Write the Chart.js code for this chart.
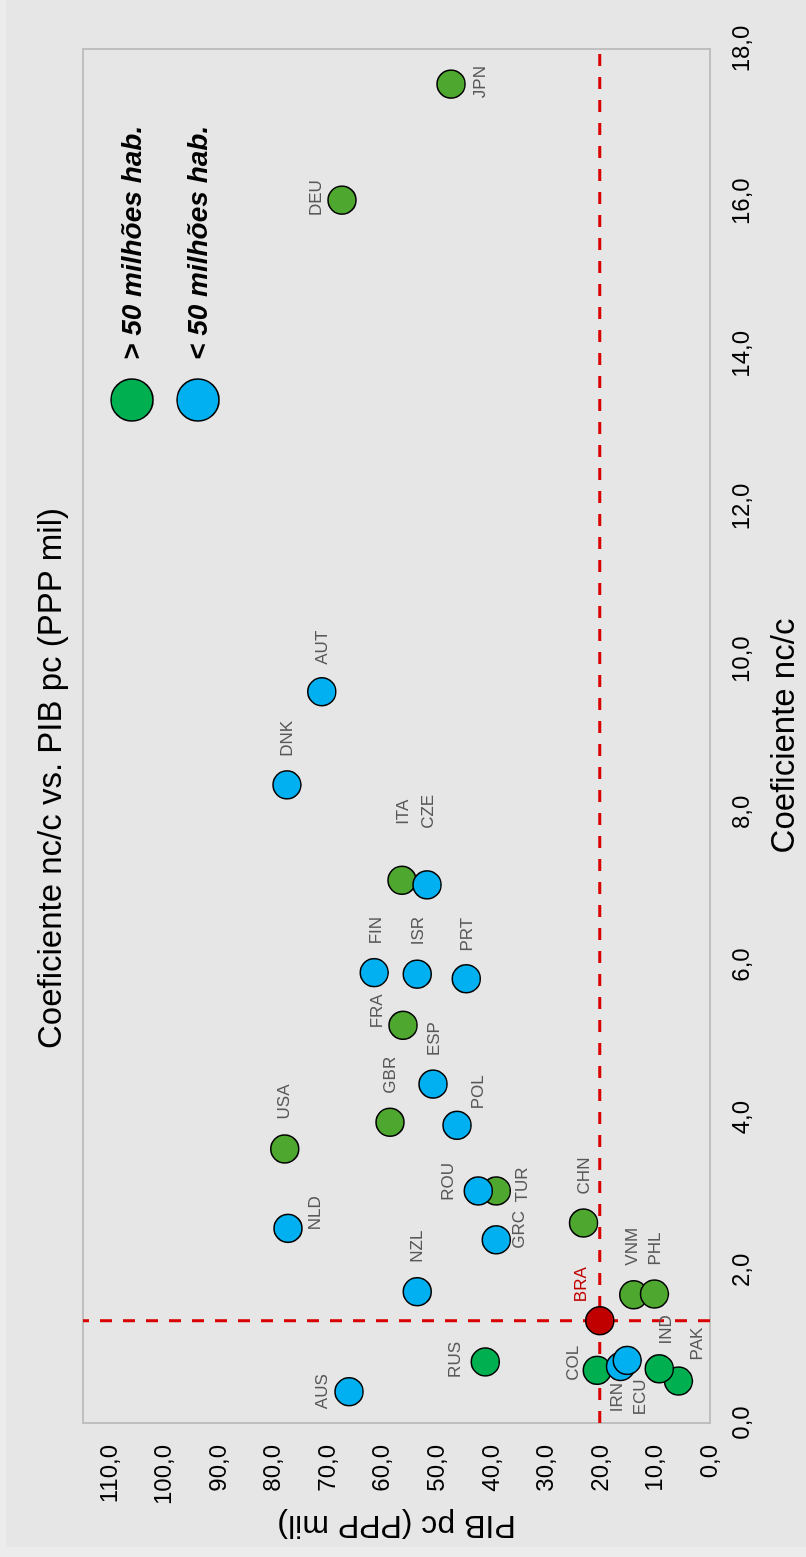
<!DOCTYPE html>
<html lang="pt-BR">
<head>
<meta charset="utf-8">
<title>Coeficiente nc/c vs. PIB pc (PPP mil)</title>
<script src="https://cdn.jsdelivr.net/npm/chart.js@4.4.1/dist/chart.umd.min.js"></script>
<style>
  html, body { margin: 0; padding: 0; background: #ececec; overflow: hidden; }
  /* chart is laid out landscape and turned a quarter turn counter-clockwise */
  #wrap {
    position: absolute; left: 0; top: 0;
    width: 1557px; height: 806px;
    transform-origin: 0 0;
    transform: translate(0, 1557px) rotate(-90deg);
  }
  canvas { display: block; }
</style>
</head>
<body>
<div id="wrap"><canvas id="chart" width="1557" height="806"></canvas></div>
<script>
// ---- data: coeficiente nc/c (x) and PIB per capita PPP, mil (y) ----
// countries with more than 50 million inhabitants
const over50Codes = ['JPN', 'DEU', 'ITA', 'FRA', 'GBR', 'USA', 'TUR', 'CHN', 'VNM', 'PHL', 'RUS', 'COL', 'PAK', 'IND'];
const over50Coef  = [17.54, 16.02, 7.11, 5.21, 3.94, 3.59, 3.04, 2.62, 1.68, 1.69, 0.80, 0.69, 0.55, 0.71];
const over50Pib   = [47.5, 67.5, 56.5, 56.3, 58.7, 78.0, 39.2, 23.2, 14.0, 10.2, 41.2, 20.7, 5.8, 9.3];

// countries with fewer than 50 million inhabitants
const under50Codes = ['AUT', 'DNK', 'CZE', 'FIN', 'ISR', 'PRT', 'ESP', 'POL', 'ROU', 'NLD', 'GRC', 'NZL', 'AUS', 'IRN', 'ECU'];
const under50Coef  = [9.58, 8.36, 7.05, 5.90, 5.88, 5.82, 4.44, 3.90, 3.04, 2.55, 2.40, 1.72, 0.41, 0.74, 0.82];
const under50Pib   = [71.2, 77.6, 51.9, 61.6, 53.7, 44.7, 50.8, 46.4, 42.5, 77.4, 39.2, 53.7, 66.2, 16.4, 15.2];

// Brazil, highlighted with reference lines
const braCode = 'BRA';
const braCoef = 1.34;
const braPib  = 20.2;

// axis ticks
const xTicks = [0, 2, 4, 6, 8, 10, 12, 14, 16, 18];
const yTicks = [0, 10, 20, 30, 40, 50, 60, 70, 80, 90, 100, 110];

const legendLabels = ['> 50 milhões hab.', '< 50 milhões hab.'];

// ---- styles ----
const FONT = "'Liberation Sans', Arial, sans-serif";
const OLIVE = '#4ea72e';
const EMERALD = '#00b050';
const SKY = '#00b0f0';
const BRA_RED = '#c00000';
const REF_RED = '#d80000';
const emeraldCodes = ['RUS', 'COL', 'PAK', 'IND'];
const POINT_R = 14;

// label offset from its point centre, in canvas pixels [dx, dy]
const labelOffset = {
  JPN: [2, 29],  DEU: [2, -26], AUT: [44, 1], DNK: [46, 0], ITA: [68, 1], CZE: [73, 1],
  FIN: [42, 2],  ISR: [43, 1],  PRT: [44, 1], FRA: [14, -26], ESP: [45, 1], GBR: [47, 0],
  POL: [33, 21], USA: [47, 0],  ROU: [9, -30], TUR: [6, 26], NLD: [15, 27], CHN: [47, 1],
  GRC: [10, 23], NZL: [45, 0],  VNM: [48, -1], PHL: [45, 1], BRA: [36, -19], COL: [7, -24],
  IRN: [-31, -3], ECU: [-37, 13], IND: [39, 7], PAK: [37, 19], RUS: [2, -30], AUS: [0, -27]
};

const toPoints = (xs, ys) => xs.map((x, i) => ({ x: x, y: ys[i] }));
const fmt = v => v.toFixed(1).replace('.', ',');

const backgroundPlugin = {
  id: 'panelBackground',
  beforeDraw(chart) {
    const { ctx, width, height } = chart;
    ctx.save();
    ctx.fillStyle = '#ececec';
    ctx.fillRect(0, 0, width, height);
    ctx.fillStyle = '#e6e6e6';
    ctx.fillRect(10, 6, width - 10, height - 6);
    ctx.restore();
  }
};

const framePlugin = {
  id: 'plotFrame',
  beforeDatasetsDraw(chart) {
    const { ctx, chartArea: a } = chart;
    ctx.save();
    ctx.strokeStyle = '#bfbfbf';
    ctx.lineWidth = 2;
    ctx.strokeRect(a.left, a.top, a.right - a.left, a.bottom - a.top);
    ctx.restore();
  }
};

const pointLabelPlugin = {
  id: 'pointLabels',
  afterDatasetsDraw(chart) {
    const ctx = chart.ctx;
    ctx.save();
    ctx.textAlign = 'center';
    ctx.textBaseline = 'middle';
    chart.data.datasets.forEach((ds, i) => {
      if (!ds.codes) return;
      const meta = chart.getDatasetMeta(i);
      meta.data.forEach((el, j) => {
        const code = ds.codes[j];
        const off = labelOffset[code] || [0, -24];
        ctx.font = '17px ' + FONT;
        ctx.fillStyle = code === braCode ? BRA_RED : '#595959';
        ctx.fillText(code, el.x + off[0], el.y + off[1]);
      });
    });
    ctx.restore();
  }
};

const legendPlugin = {
  id: 'bubbleLegend',
  afterDatasetsDraw(chart) {
    const ctx = chart.ctx;
    const entries = [
      { label: legendLabels[0], color: EMERALD, cy: 132 },
      { label: legendLabels[1], color: SKY, cy: 198 }
    ];
    ctx.save();
    entries.forEach(e => {
      ctx.beginPath();
      ctx.arc(1157, e.cy, 21, 0, Math.PI * 2);
      ctx.fillStyle = e.color;
      ctx.fill();
      ctx.lineWidth = 1.5;
      ctx.strokeStyle = '#000';
      ctx.stroke();
      ctx.font = 'italic bold 28px ' + FONT;
      ctx.fillStyle = '#000';
      ctx.textAlign = 'left';
      ctx.textBaseline = 'middle';
      ctx.fillText(e.label, 1197, e.cy + 1);
    });
    ctx.restore();
  }
};

new Chart(document.getElementById('chart'), {
  type: 'scatter',
  data: {
    datasets: [
      {
        label: 'BRA',
        codes: [braCode],
        data: [{ x: braCoef, y: braPib }],
        pointRadius: POINT_R,
        pointHoverRadius: POINT_R,
        backgroundColor: BRA_RED,
        borderColor: '#000',
        borderWidth: 1.5,
        order: 0
      },
      {
        label: legendLabels[1],
        codes: under50Codes,
        data: toPoints(under50Coef, under50Pib),
        pointRadius: POINT_R,
        pointHoverRadius: POINT_R,
        backgroundColor: SKY,
        borderColor: '#000',
        borderWidth: 1.5,
        order: 1
      },
      {
        label: legendLabels[0],
        codes: over50Codes,
        data: toPoints(over50Coef, over50Pib),
        pointRadius: POINT_R,
        pointHoverRadius: POINT_R,
        backgroundColor: over50Codes.map(c => emeraldCodes.includes(c) ? EMERALD : OLIVE),
        borderColor: '#000',
        borderWidth: 1.5,
        order: 2
      },
      {
        type: 'line',
        label: 'ref-x',
        data: [{ x: braCoef, y: 0 }, { x: braCoef, y: 115 }],
        borderColor: REF_RED,
        borderWidth: 3,
        borderDash: [12, 11],
        pointRadius: 0,
        fill: false,
        order: 3
      },
      {
        type: 'line',
        label: 'ref-y',
        data: [{ x: 0, y: braPib }, { x: 18, y: braPib }],
        borderColor: REF_RED,
        borderWidth: 3,
        borderDash: [12, 11],
        pointRadius: 0,
        fill: false,
        order: 3
      }
    ]
  },
  options: {
    responsive: false,
    animation: false,
    events: [],
    layout: { padding: 0 },
    plugins: {
      legend: { display: false },
      tooltip: { enabled: false },
      title: {
        display: true,
        text: 'Coeficiente nc/c vs. PIB pc (PPP mil)',
        color: '#000',
        font: { family: FONT, size: 33, weight: 'normal', lineHeight: 1.2 },
        padding: { top: 32, bottom: 11.4 }
      }
    },
    scales: {
      x: {
        type: 'linear',
        min: 0,
        max: 18,
        afterBuildTicks: s => { s.ticks = xTicks.map(v => ({ value: v })); },
        afterFit: s => { s.height = 96; },
        grid: { display: false, drawTicks: false },
        border: { display: false },
        ticks: {
          color: '#000',
          padding: 18,
          maxRotation: 0,
          font: { family: FONT, size: 24 },
          callback: v => fmt(v)
        },
        title: {
          display: true,
          text: 'Coeficiente nc/c',
          color: '#000',
          font: { family: FONT, size: 33, lineHeight: 1.2 },
          padding: { top: 0, bottom: 1.2 }
        }
      },
      y: {
        type: 'linear',
        min: 0,
        max: 115,
        afterBuildTicks: s => { s.ticks = yTicks.map(v => ({ value: v })); },
        afterFit: s => { s.width = 134; },
        grid: { display: false, drawTicks: false },
        border: { display: false },
        ticks: {
          color: '#000',
          padding: 22,
          font: { family: FONT, size: 24 },
          callback: v => fmt(v)
        },
        title: {
          display: true,
          text: 'PIB pc (PPP mil)',
          color: '#000',
          font: { family: FONT, size: 32, lineHeight: 1.2 },
          padding: { top: 12.8, bottom: 0 }
        }
      },
      // empty margin on the far side of the plot
      margin: {
        type: 'linear',
        position: 'right',
        display: true,
        afterFit: s => { s.width = 49; },
        grid: { display: false, drawTicks: false },
        border: { display: false },
        ticks: { display: false }
      }
    }
  },
  plugins: [backgroundPlugin, framePlugin, pointLabelPlugin, legendPlugin]
});
</script>
</body>
</html>
